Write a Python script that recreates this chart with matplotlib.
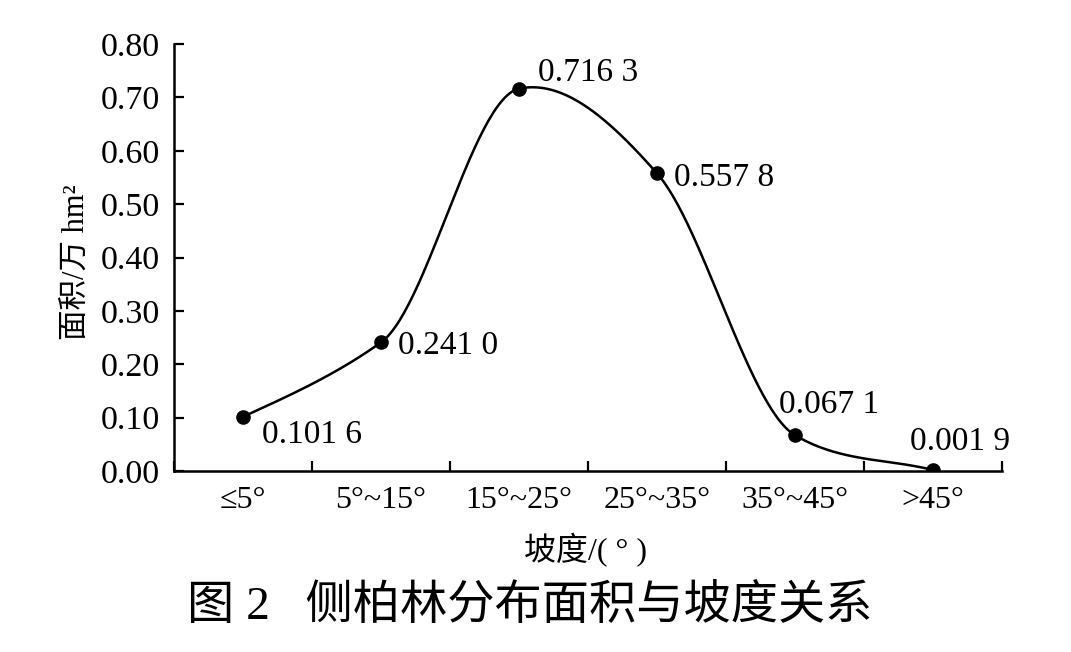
import numpy as np
import matplotlib.pyplot as plt

# slope classes and area (10^4 hm2)
categories = ['≤5°', '5°~15°', '15°~25°', '25°~35°', '35°~45°', '>45°']
area = [0.1016, 0.2410, 0.7163, 0.5578, 0.0671, 0.0019]
point_labels = ['0.101 6', '0.241 0', '0.716 3', '0.557 8', '0.067 1', '0.001 9']
y_ticks = [0.0, 0.1, 0.2, 0.3, 0.4, 0.5, 0.6, 0.7, 0.8]

serif = ['Liberation Serif', 'Noto Sans CJK SC']
plt.rcParams['font.family'] = serif
plt.rcParams['axes.unicode_minus'] = False


def smooth(xs, ys, n=60):
    '''hermite curve through the points (damped catmull-rom tangents), only for drawing the line'''
    xs = np.asarray(xs, float)
    ys = np.asarray(ys, float)
    # tangent damping per point, just to get the shape of the original smoothing
    k = np.array([0.85, 0.6, 0.35, 0.9, 0.55, 1.0])
    m = np.zeros_like(ys)
    m[1:-1] = k[1:-1] * (ys[2:] - ys[:-2]) / 2
    m[0] = k[0] * (ys[1] - ys[0])
    m[-1] = k[-1] * (ys[-1] - ys[-2])
    px, py = [], []
    for i in range(len(xs) - 1):
        t = np.linspace(0, 1, n)
        h00 = 2 * t**3 - 3 * t**2 + 1
        h10 = t**3 - 2 * t**2 + t
        h01 = -2 * t**3 + 3 * t**2
        h11 = t**3 - t**2
        px.append(xs[i] + t * (xs[i + 1] - xs[i]))
        py.append(h00 * ys[i] + h10 * m[i] + h01 * ys[i + 1] + h11 * m[i + 1])
    return np.concatenate(px), np.concatenate(py)


x = np.arange(len(categories))
fig = plt.figure(figsize=(10.71, 6.52), dpi=100)
ax = fig.add_axes([0.1625, 0.2776, 0.773, 0.6549])

cx, cy = smooth(x, area)
ax.plot(cx, cy, color='black', lw=1.8)
ax.plot(x, area, 'o', color='black', ms=9.5)

# label offsets in pixels (dx, dy), text left aligned
offsets = [(19, -18), (17, -3), (19, 16), (17, -4), (-16, 30), (-23, 28)]
for xi, yi, lab, (dx, dy) in zip(x, area, point_labels, offsets):
    ax.annotate(lab, (xi, yi), xytext=(dx, dy), textcoords='offset pixels',
                ha='left', va='center', fontsize=24, family=serif)

ax.set_xlim(-0.5, 5.5)
ax.set_ylim(0, 0.8)
ax.set_yticks(y_ticks)
ax.set_yticklabels(['%.2f' % v for v in y_ticks], fontsize=24.5)
ax.set_xticks(np.arange(-0.5, 6, 1))
ax.set_xticklabels([])
ax.set_xticks(x, minor=True)
ax.set_xticklabels(categories, minor=True, fontsize=23)
ax.tick_params(axis='x', which='major', direction='in', length=7, width=1.6)
ax.tick_params(axis='x', which='minor', length=0, pad=11)
ax.tick_params(axis='y', direction='in', length=7, width=1.6, pad=10)

for s in ['top', 'right']:
    ax.spines[s].set_visible(False)
for s in ['left', 'bottom']:
    ax.spines[s].set_linewidth(1.8)

fig.text(0.071, 0.598, '面积/万 hm²', rotation=90, ha='center', va='center',
         fontsize=22, family=serif)
fig.text(0.547, 0.156, '坡度/( ° )', ha='center', va='center',
         fontsize=23, family=serif)
fig.text(0.495, 0.069, '图 2   侧柏林分布面积与坡度关系', ha='center', va='center',
         fontsize=34, family=serif)

fig.savefig('out.png', dpi=100)
